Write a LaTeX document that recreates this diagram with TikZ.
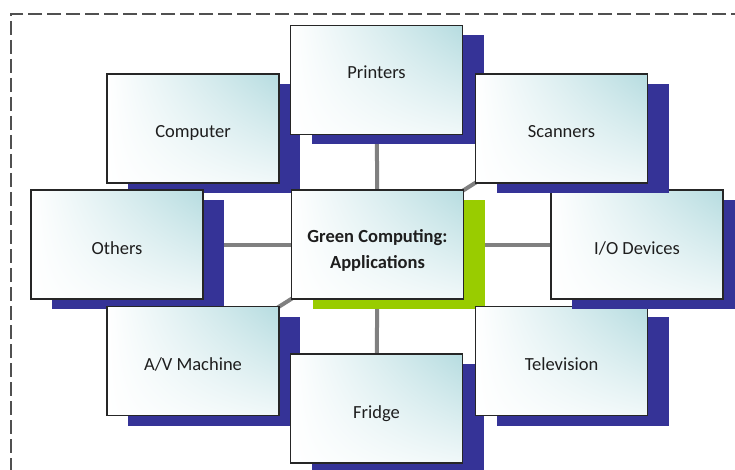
\documentclass[tikz,border=0pt]{standalone}
\usepackage{fontspec}
\setmainfont{Carlito}
\usetikzlibrary{shadows,backgrounds,shadings}
\definecolor{shblue}{RGB}{53,51,151}
\definecolor{shgreen}{RGB}{153,204,0}
\definecolor{tealA}{RGB}{182,220,224}
\definecolor{linkgray}{RGB}{128,128,128}
\definecolor{framegray}{RGB}{80,80,80}
\definecolor{txtcol}{RGB}{30,30,30}
\newcommand\lbl[2][-9.5pt]{\raisebox{#1}[0pt][0pt]{#2}}
\begin{document}
\begin{tikzpicture}[x=1pt,y=-1pt,
  box/.style={draw=black!85, line width=1.2pt, minimum width=172pt, minimum height=109pt,
    inner sep=0pt, upper left=white, lower left=white, upper right=tealA,
    lower right=tealA!20!white, font=\fontsize{18.5}{26}\selectfont, text=txtcol},
  blueshadow/.style={drop shadow={fill=shblue, opacity=1, shadow xshift=21pt, shadow yshift=-10pt}},
  greenshadow/.style={drop shadow={fill=shgreen, opacity=1, shadow xshift=21pt, shadow yshift=-10pt}},
  link/.style={draw=linkgray, line width=4pt},
  frameline/.style={draw=framegray, line width=2pt, dash pattern=on 14pt off 5pt}
]
\useasboundingbox (0,0) rectangle (735,470);
\clip (0,0) rectangle (735,470);

\node[box, blueshadow] (computer) at (193,128.5) {\lbl{Computer}};
\node[box, blueshadow] (others) at (117,244.5) {\lbl{Others}};
\node[box, blueshadow] (av) at (193,361) {\lbl{A/V Machine}};
\node[box, blueshadow] (fridge) at (376.5,408.5) {\lbl{Fridge}};
\node[box, greenshadow] (center) at (377.5,244.5)
  {\raisebox{-10.6pt}[0pt][0pt]{\bfseries\begin{tabular}{@{}c@{}}Green Computing:\\Applications\end{tabular}}};
\node[box, blueshadow] (tv) at (561.5,361) {\lbl{Television}};
\node[box, blueshadow] (io) at (637,244.5) {\lbl{I/O Devices}};
\node[box, blueshadow] (printers) at (376.5,80) {\lbl[1.7pt]{Printers}};
\node[box, blueshadow] (scanners) at (561.5,128.5) {\lbl{Scanners}};

\begin{scope}[on background layer]
  \draw[frameline] (745,14) -- (11,14) -- (11,480);
  \foreach \n in {computer,others,av,fridge,tv,io,printers,scanners}
    \draw[link] (center.center) -- (\n.center);
\end{scope}
\end{tikzpicture}
\end{document}
